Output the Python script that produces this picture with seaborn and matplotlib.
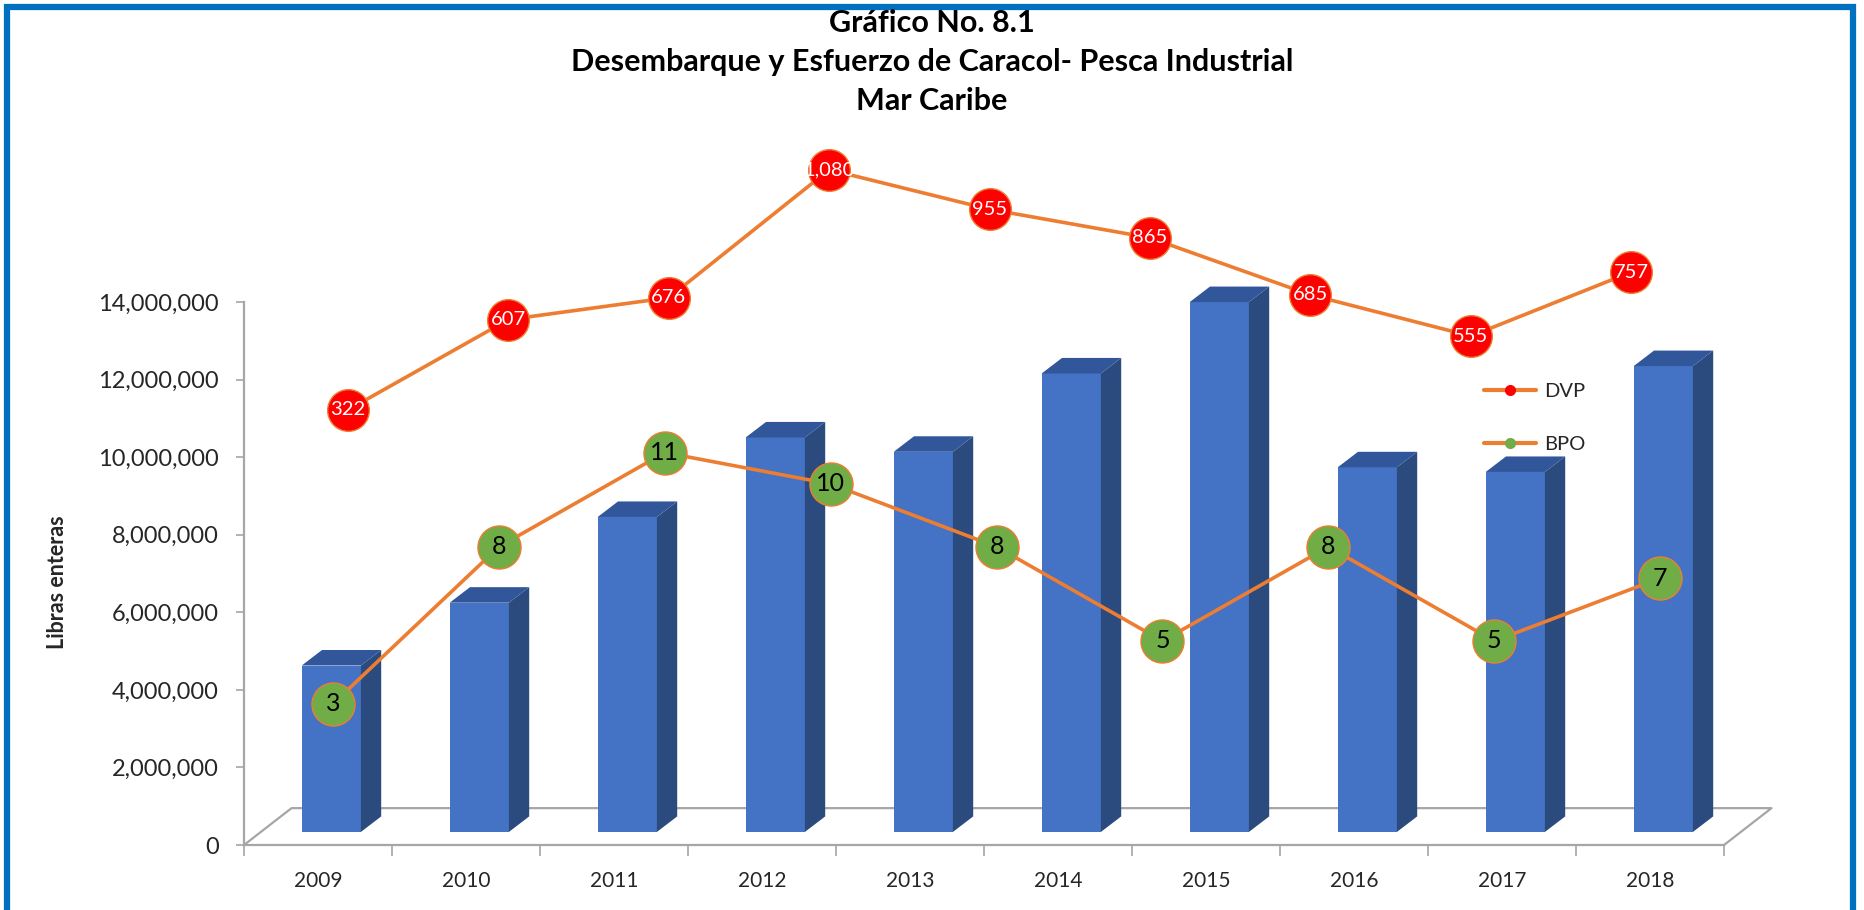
import matplotlib
matplotlib.use("Agg")
import matplotlib.pyplot as plt
import seaborn as sns
from matplotlib.lines import Line2D
from matplotlib.patches import Polygon, Rectangle

# ---------------------------------------------------------------------------
# data
# ---------------------------------------------------------------------------
YEARS = ["2009", "2010", "2011", "2012", "2013", "2014", "2015", "2016", "2017", "2018"]
LIBRAS = [4.29e6, 5.91e6, 8.12e6, 10.17e6, 9.80e6, 11.82e6, 13.66e6, 9.40e6, 9.28e6, 12.01e6]
DVP = [322, 607, 676, 1080, 955, 865, 685, 555, 757]
BPO = [3, 8, 11, 10, 8, 5, 8, 5, 7]
Y_TICKS = [0, 2e6, 4e6, 6e6, 8e6, 10e6, 12e6, 14e6]
TITLE_LINES = ["Gráfico No. 8.1",
               "Desembarque y Esfuerzo de Caracol- Pesca Industrial",
               "Mar Caribe"]

# ---------------------------------------------------------------------------
# colours / style
# ---------------------------------------------------------------------------
FRONT = "#4472C4"
SIDE = "#2B4A7E"
TOP = "#31569A"
ORANGE = "#ED7D31"
RED = "#FF0000"
GREEN = "#70AD47"
AXIS_GREY = "#A6A6A6"
FRAME_BLUE = "#0070C0"

sns.set_theme(style="white")
plt.rcParams["font.family"] = ["Lato", "DejaVu Sans"]

W, H = 1864, 910
fig = plt.figure(figsize=(W / 100, H / 100), dpi=100)
fig.patch.set_facecolor("white")

# axes rectangle in pixels (left, bottom-from-top, right, top-from-top)
PX_L, PX_R, PX_B, PX_T = 244, 1724, 845, 115
rect = [PX_L / W, 1 - PX_B / H, (PX_R - PX_L) / W, (PX_B - PX_T) / H]
ax = fig.add_axes(rect)
ax.set_facecolor("none")

# 3D-ish depth offsets (categories, pounds)
D0X, D0Y = 0.09, 0.337e6      # bar front face offset from the floor front edge
SX, SY = 0.137, 0.40e6        # bar depth
FX, FY = 0.321, 0.95e6        # floor depth
BAR_W = 0.40

sns.barplot(x=YEARS, y=LIBRAS, color=FRONT, width=BAR_W, saturation=1,
            linewidth=0, ax=ax, zorder=3)

for p in ax.patches:
    x0, w, h = p.get_x(), p.get_width(), p.get_height()
    p.set_x(x0 + D0X)
    p.set_y(D0Y)
    xl, xr = x0 + D0X, x0 + D0X + w
    y0, y1 = D0Y, D0Y + h
    ax.add_patch(Polygon([(xr, y0), (xr + SX, y0 + SY), (xr + SX, y1 + SY), (xr, y1)],
                         closed=True, facecolor=SIDE, edgecolor="none", zorder=3))
    ax.add_patch(Polygon([(xl, y1), (xr, y1), (xr + SX, y1 + SY), (xl + SX, y1 + SY)],
                         closed=True, facecolor=TOP, edgecolor="none", zorder=3))

n = len(YEARS)
ax.set_xlim(-0.5, n - 0.5)
ax.set_ylim(0, 18.82e6)

# floor outline
ax.plot([-0.5, -0.5 + FX, n - 0.5 + FX, n - 0.5],
        [0, FY, FY, 0], color=AXIS_GREY, lw=1.6, zorder=1, clip_on=False)

# axes look
sns.despine(ax=ax, top=True, right=True)
for s in ("left", "bottom"):
    ax.spines[s].set_color(AXIS_GREY)
    ax.spines[s].set_linewidth(1.6)
ax.spines["left"].set_bounds(0, 14e6)
ax.set_yticks(Y_TICKS)
ax.set_yticklabels([f"{int(v):,}" for v in Y_TICKS])
ax.tick_params(axis="y", which="major", length=6, width=1.2, color=AXIS_GREY,
               labelsize=17, pad=12, left=True)
ax.set_xticks(range(n))
ax.set_xticklabels(YEARS)
ax.set_xticks([i - 0.5 for i in range(n + 1)], minor=True)
ax.tick_params(axis="x", which="major", length=0, labelsize=15, pad=19)
ax.tick_params(axis="x", which="minor", length=8, width=1.2, color=AXIS_GREY,
               bottom=True)
ax.set_xlabel("")
ax.set_ylabel("")


# ---------------------------------------------------------------------------
# the two lines sit on their own hidden scales
# ---------------------------------------------------------------------------
def overlay(xlim, ylim):
    a = fig.add_axes(rect)
    a.set_facecolor("none")
    a.set_xlim(*xlim)
    a.set_ylim(*ylim)
    a.set_axis_off()
    return a


ax_dvp = overlay((-0.648, 8.578), (-1051, 1252.6))
ax_bpo = overlay((-0.5365, 8.385), (-1.497, 21.75))

idx = list(range(len(DVP)))
sns.lineplot(x=idx, y=DVP, ax=ax_dvp, color=ORANGE, lw=2.6, marker="o",
             markersize=30, markerfacecolor=RED, markeredgecolor=ORANGE,
             markeredgewidth=1.0, zorder=4)
for i, v in zip(idx, DVP):
    ax_dvp.text(i, v, f"{v:,}", ha="center", va="center", color="white",
                fontsize=14.5, zorder=6)

idx = list(range(len(BPO)))
sns.lineplot(x=idx, y=BPO, ax=ax_bpo, color=ORANGE, lw=2.6, marker="o",
             markersize=31, markerfacecolor=GREEN, markeredgecolor=ORANGE,
             markeredgewidth=1.0, zorder=4)
for i, v in zip(idx, BPO):
    ax_bpo.text(i, v, str(v), ha="center", va="center", color="black",
                fontsize=18, zorder=6)

# legend
handles = [
    Line2D([0], [0], color=ORANGE, lw=3, marker="o", markersize=7,
           markerfacecolor=RED, markeredgecolor=RED),
    Line2D([0], [0], color=ORANGE, lw=3, marker="o", markersize=7,
           markerfacecolor=GREEN, markeredgecolor=GREEN),
]
fig.legend(handles, ["DVP", "BPO"], loc="center left",
           bbox_to_anchor=(1466 / W, 1 - 418 / H), frameon=False, fontsize=14.5,
           labelspacing=1.75, handlelength=2.6, handletextpad=0.4)

# titles and axis label
for y_px, line in zip([23, 62, 101], TITLE_LINES):
    fig.text(0.5, 1 - y_px / H, line, ha="center", va="center",
             fontsize=22, fontweight="bold", color="black")
fig.text(57 / W, 1 - 582 / H, "Libras enteras", rotation=90, ha="center",
         va="center", fontsize=15.5, fontweight="bold")

# blue frame around the chart
fig.add_artist(Rectangle((7 / W, -0.05), (1853 - 7) / W, 1.05 - 7 / H,
                         transform=fig.transFigure, fill=False,
                         edgecolor=FRAME_BLUE, lw=4.5, clip_on=False))

fig.savefig("out.png", dpi=100, facecolor="white")
